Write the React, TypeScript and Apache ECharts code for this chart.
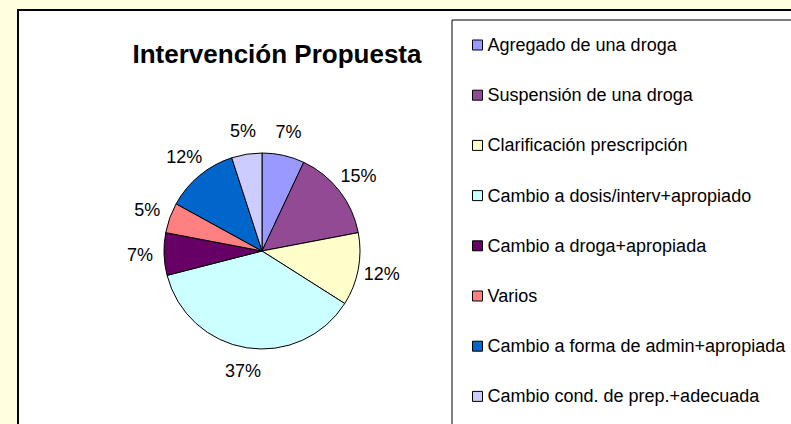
import React, { useEffect, useRef } from "react";
import * as echarts from "echarts";

const titleText = "Intervención Propuesta";
const categories = [
  "Agregado de una droga",
  "Suspensión de una droga",
  "Clarificación prescripción",
  "Cambio a dosis/interv+apropiado",
  "Cambio a droga+apropiada",
  "Varios",
  "Cambio a forma de admin+apropiada",
  "Cambio cond. de prep.+adecuada",
];
const values = [7, 15, 12, 37, 7, 5, 12, 5];
const colors = ["#9999FF", "#924A94", "#FFFFCC", "#CCFFFF", "#660066", "#FF8080", "#0066CC", "#CCCCFF"];

const FONT = "Arial, 'Liberation Sans', sans-serif";

export default function App() {
  const ref = useRef<HTMLDivElement>(null);
  useEffect(() => {
    if (!ref.current) return;
    const chart = echarts.init(ref.current, undefined, { renderer: "svg" });
    const pieData = categories.map((name, i) => ({
      name,
      value: values[i],
      itemStyle: { color: colors[i] },
    }));
    const labelData = categories.map((name, i) => ({ name, value: values[i] }));
    chart.setOption({
      animation: false,
      backgroundColor: "#FFFFE0",
      graphic: [
        {
          type: "rect",
          z: 0,
          shape: { x: 18, y: 10, width: 800, height: 450 },
          style: { fill: "#ffffff", stroke: "#000000", lineWidth: 2 },
          silent: true,
        },
        {
          type: "rect",
          z: 1,
          shape: { x: 452, y: 20, width: 400, height: 450 },
          style: { fill: "#ffffff", stroke: "#000000", lineWidth: 1 },
          silent: true,
        },
        {
          type: "text",
          z: 5,
          x: 277,
          y: 54,
          style: {
            text: titleText,
            font: `bold 26px ${FONT}`,
            fill: "#000000",
            align: "center",
            verticalAlign: "middle",
          },
        },
      ],
      legend: {
        orient: "vertical",
        left: 472,
        top: 35,
        padding: 0,
        itemWidth: 10,
        itemHeight: 10,
        itemGap: 30.2,
        icon: "rect",
        selectedMode: false,
        data: categories,
        itemStyle: { borderColor: "#000000", borderWidth: 1 },
        textStyle: { fontFamily: FONT, fontSize: 18, color: "#000000", lineHeight: 20 },
      },
      series: [
        {
          type: "pie",
          center: [262, 251],
          radius: 98,
          startAngle: 90,
          clockwise: true,
          avoidLabelOverlap: false,
          label: { show: false },
          labelLine: { show: false },
          emphasis: { disabled: true },
          itemStyle: { borderColor: "#000000", borderWidth: 1 },
          data: pieData,
        },
        {
          type: "pie",
          center: [262, 251],
          radius: [110, 128],
          startAngle: 90,
          clockwise: true,
          silent: true,
          avoidLabelOverlap: false,
          emphasis: { disabled: true },
          itemStyle: { color: "rgba(0,0,0,0)", borderWidth: 0 },
          label: {
            show: true,
            position: "inside",
            formatter: "{c}%",
            fontFamily: FONT,
            fontSize: 18,
            color: "#000000",
          },
          labelLine: { show: false },
          data: labelData,
        },
      ],
    });
    return () => chart.dispose();
  }, []);
  return (
    <div
      ref={ref}
      style={{ position: "absolute", left: 0, top: 0, width: 791, height: 424 }}
    />
  );
}
